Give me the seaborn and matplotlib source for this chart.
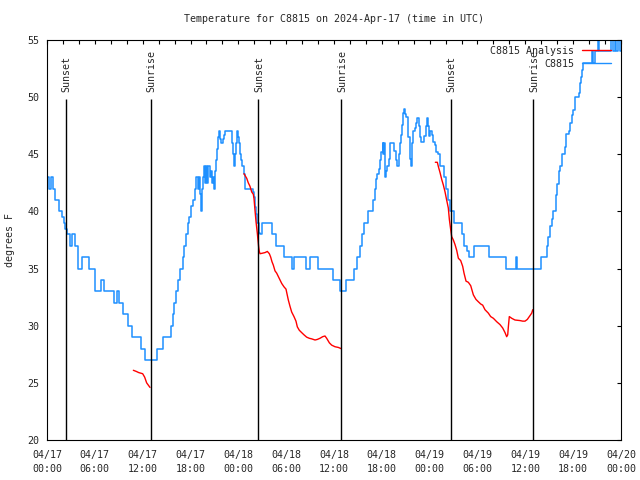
import matplotlib
matplotlib.use("Agg")
import matplotlib.pyplot as plt
from matplotlib.lines import Line2D
import numpy as np
import pandas as pd
import seaborn as sns

# ---------------- data ----------------
title = "Temperature for C8815 on 2024-Apr-17 (time in UTC)"
y_label = "degrees F"
tick_hours = [0, 6, 12, 18, 24, 30, 36, 42, 48, 54, 60, 66, 72]
tick_labels = ["04/17\n00:00", "04/17\n06:00", "04/17\n12:00", "04/17\n18:00",
               "04/18\n00:00", "04/18\n06:00", "04/18\n12:00", "04/18\n18:00",
               "04/19\n00:00", "04/19\n06:00", "04/19\n12:00", "04/19\n18:00",
               "04/20\n00:00"]
y_ticks = [20, 25, 30, 35, 40, 45, 50, 55]
sunset_hours = [2.38, 26.5, 50.64]
sunrise_hours = [13.0, 36.93, 61.0]

# observed C8815 (hours since 04/17 00:00 UTC, deg F)
obs_hours = [0.10, 0.30, 0.50, 0.70, 1.00, 1.50, 1.90, 2.10, 2.30, 2.45,
             2.90, 3.10, 3.50, 3.85, 4.45, 5.25, 6.00, 6.75, 7.20, 8.35,
             8.80, 9.00, 9.50, 10.20, 10.60, 11.75, 12.30, 13.80, 14.60, 15.55,
             15.75, 15.95, 16.15, 16.45, 16.65, 17.05, 17.20, 17.45, 17.65, 17.85,
             18.05, 18.30, 18.60, 18.75, 18.95, 19.05, 19.20, 19.32, 19.42, 19.55,
             19.70, 19.80, 19.90, 20.05, 20.20, 20.40, 20.55, 20.65, 20.80, 20.90,
             21.05, 21.15, 21.30, 21.45, 21.60, 21.72, 21.85, 22.05, 22.20, 22.35,
             23.20, 23.35, 23.50, 23.62, 23.75, 23.88, 24.00, 24.12, 24.25, 24.38,
             24.50, 24.65, 24.80, 25.85, 26.00, 26.12, 26.25, 26.40, 26.55, 26.70,
             26.95, 28.20, 28.70, 29.75, 30.75, 30.95, 32.50, 32.95, 34.00, 35.90,
             36.80, 37.55, 38.50, 38.85, 39.30, 39.55, 39.80, 40.30, 40.90, 41.10,
             41.30, 41.45, 41.60, 41.75, 41.95, 42.10, 42.20, 42.28, 42.40, 42.55,
             42.70, 42.85, 43.00, 43.55, 43.75, 43.90, 44.10, 44.30, 44.42, 44.55,
             44.68, 44.78, 44.90, 45.00, 45.30, 45.50, 45.65, 45.80, 45.95, 46.20,
             46.30, 46.45, 46.60, 46.75, 46.90, 47.30, 47.50, 47.70, 47.85, 47.95,
             48.10, 48.30, 48.45, 48.70, 48.85, 49.10, 49.30, 49.80, 50.05, 50.30,
             50.55, 51.00, 52.10, 52.30, 52.70, 52.95, 53.60, 55.40, 57.60, 58.80,
             59.00, 62.00, 62.68, 62.89, 63.10, 63.31, 63.51, 63.85, 64.01, 64.19,
             64.35, 64.56, 65.02, 65.10, 65.44, 65.60, 65.81, 65.94, 66.27, 66.70,
             66.86, 66.99, 67.11, 67.28, 68.40, 68.55, 68.70, 69.10, 69.25, 70.80,
             71.05, 71.20, 71.40, 71.60, 71.85, 72.00]
obs_temps = [43, 42, 43, 42, 41, 40, 39.5, 39, 38.5, 38,
             37, 38, 37, 35, 36, 35, 33, 34, 33, 32,
             33, 32, 31, 30, 29, 28, 27, 28, 29, 30,
             31, 32, 33, 34, 35, 36, 37, 38, 39, 39.5,
             40.5, 41, 42, 43, 42, 43, 41.5, 40, 42, 43,
             44, 42.5, 44, 42.5, 44, 43, 43.5, 42.5, 43, 42,
             43.5, 44.5, 45.5, 46.5, 47, 46.3, 46, 46.3, 46.7, 47,
             46, 45, 44, 45, 46, 47, 46.5, 46, 45, 44.5,
             44, 43.3, 42, 41.7, 41.3, 40.4, 39.8, 39, 38.1, 38,
             39, 38, 37, 36, 35, 36, 35, 36, 35, 34,
             33, 34, 35, 36, 37, 38, 39, 40, 41, 42,
             42.8, 43.3, 43.7, 44.5, 45.2, 46, 45, 46, 43, 43.5,
             44, 44.6, 46, 45.3, 44.5, 44, 45, 46, 46.7, 47.6,
             48.6, 49, 48.5, 48.3, 46.5, 44.6, 44, 46, 47, 47.3,
             47.7, 48.2, 47.5, 46.5, 46.1, 46.6, 47.5, 48.2, 47.5, 46.6,
             47, 46.7, 46.1, 45.8, 45.2, 45, 44, 43, 42, 41,
             40, 39, 38, 37, 36.5, 36, 37, 36, 35, 36,
             35, 36, 37, 37.8, 38.7, 39.3, 40, 41.4, 42.4, 43.5,
             44, 45, 45.6, 46.8, 47, 47.7, 48.4, 48.9, 50, 50.4,
             51.2, 51.8, 52.4, 53, 54, 53, 54, 55, 54, 55,
             54, 55, 54, 55, 54, 54]

# analysis (three separate runs)
ana_hours_1 = [10.83, 11.2, 11.5, 12.0, 12.25, 12.5, 12.92]
ana_temps_1 = [26.1, 26.0, 25.9, 25.8, 25.5, 25.0, 24.6]
ana_hours_2 = [24.71, 25.05, 25.25, 25.46, 25.68, 25.88, 25.97, 26.09, 26.22, 26.38, 26.55,
               26.63, 26.72, 27.05, 27.35, 27.64, 27.89, 28.06, 28.22, 28.39, 28.6, 28.81,
               29.02, 29.23, 29.44, 29.73, 29.98, 30.07, 30.27, 30.48, 30.69, 30.98, 31.23,
               31.4, 31.65, 31.94, 32.24, 32.57, 32.9, 33.2, 33.62, 33.91, 34.24, 34.58,
               34.87, 35.08, 35.42, 35.71, 36.13, 36.54, 36.88]
ana_temps_2 = [43.3, 42.9, 42.5, 42.2, 41.7, 41.5, 41.1, 40.1, 39.1, 38.1, 36.9,
               36.5, 36.3, 36.35, 36.4, 36.5, 36.3, 36.0, 35.6, 35.3, 34.8, 34.6,
               34.3, 34.0, 33.7, 33.4, 33.2, 32.9, 32.25, 31.7, 31.2, 30.8, 30.4,
               29.9, 29.6, 29.4, 29.2, 29.0, 28.9, 28.85, 28.75, 28.8, 28.9, 29.04,
               29.1, 28.9, 28.5, 28.3, 28.16, 28.1, 28.0]
ana_hours_3 = [48.71, 48.96, 49.1, 49.3, 49.51, 49.72, 49.93, 50.13, 50.34, 50.47, 50.64,
               50.76, 50.97, 51.18, 51.39, 51.6, 51.89, 52.14, 52.31, 52.56, 52.85, 53.15,
               53.48, 53.81, 54.1, 54.4, 54.65, 54.94, 55.36, 55.65, 55.99, 56.41, 56.82,
               57.16, 57.45, 57.66, 57.79, 57.87, 57.99, 58.29, 58.7, 59.33, 59.67, 59.96,
               60.25, 60.5, 60.8, 60.93]
ana_temps_3 = [44.3, 44.3, 43.9, 43.4, 42.8, 42.3, 41.7, 41.0, 40.3, 39.3, 38.4,
               37.8, 37.5, 37.1, 36.6, 35.9, 35.7, 35.2, 34.6, 33.9, 33.8, 33.5,
               32.7, 32.3, 32.1, 31.9, 31.8, 31.4, 31.1, 30.8, 30.65, 30.35, 30.1,
               29.8, 29.4, 29.04, 29.2, 29.9, 30.8, 30.65, 30.5, 30.45, 30.4, 30.4,
               30.55, 30.8, 31.1, 31.4]

series_names = ["C8815 Analysis", "C8815"]

# ---------------- style ----------------
blue = "#1e90ff"
red = "#ff0000"
sns.set_style("white")
plt.rcParams["font.family"] = ["DejaVu Sans Mono"]
plt.rcParams["font.size"] = 7.2

fig = plt.figure(figsize=(6.4, 4.8), dpi=100)
ax = fig.add_axes([47 / 640, 40 / 480, 574 / 640, 400 / 480])

obs = pd.DataFrame({"hour": obs_hours, "temp": obs_temps})
sns.lineplot(data=obs, x="hour", y="temp", ax=ax, color=blue, lw=1.1,
             drawstyle="steps-post", estimator=None, sort=False)

for hh, tt in [(ana_hours_1, ana_temps_1), (ana_hours_2, ana_temps_2),
               (ana_hours_3, ana_temps_3)]:
    df = pd.DataFrame({"hour": hh, "temp": tt})
    sns.lineplot(data=df, x="hour", y="temp", ax=ax, color=red, lw=1.0,
                 estimator=None, sort=False)

ax.vlines(sunset_hours + sunrise_hours, 20, 49.8, color="black", lw=1.0)
for h in sunset_hours:
    ax.text(h + 0.1, 50.45, "Sunset", rotation=90, ha="center", va="bottom")
for h in sunrise_hours:
    ax.text(h + 0.1, 50.45, "Sunrise", rotation=90, ha="center", va="bottom")

ax.set_xlim(0, 72)
ax.set_ylim(20, 55)
ax.set_xticks(tick_hours)
ax.set_xticklabels(tick_labels, linespacing=1.55)
ax.set_xticks(np.arange(0, 73, 2), minor=True)
ax.set_yticks(y_ticks)
ax.set_yticklabels([str(v) for v in y_ticks])
ax.tick_params(which="both", direction="in", top=True, right=True,
               length=3, width=0.8, color="black", labelsize=7.2)
ax.tick_params(axis="y", pad=5.5)
ax.tick_params(axis="x", pad=7)
ax.set_xlabel("")
ax.set_ylabel("")
for s in ax.spines.values():
    s.set_color("black")
    s.set_linewidth(0.8)
ax.grid(False)

fig.text(334 / 640, 1 - 19 / 480, title, ha="center", va="center", fontsize=7.2)
fig.text(10 / 640, 0.5, y_label, rotation=90, ha="center", va="center", fontsize=7.2)

handles = [Line2D([], [], color=red, lw=1.0), Line2D([], [], color=blue, lw=1.0)]
ax.legend(handles, series_names, loc="upper right", markerfirst=False, frameon=False,
          bbox_to_anchor=(1 - 10 / 574, 1 - 6 / 400), borderaxespad=0, borderpad=0,
          handlelength=2.9, handletextpad=0.8, labelspacing=0.3, fontsize=7.2)

fig.savefig("out.png", dpi=100)
